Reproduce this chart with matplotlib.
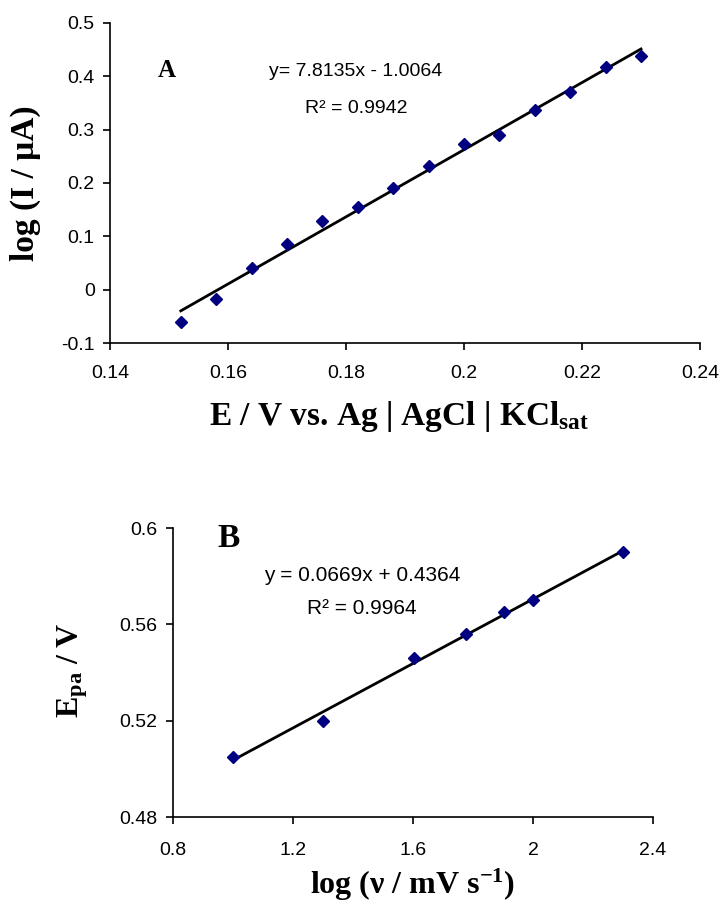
import numpy as np
import matplotlib
matplotlib.use("Agg")
import matplotlib.pyplot as plt

# ---- data ----
# Panel A
a_E = [0.152, 0.158, 0.164, 0.170, 0.176, 0.182, 0.188, 0.194, 0.200, 0.206, 0.212, 0.218, 0.224, 0.230]
a_logI = [-0.060, -0.017, 0.041, 0.086, 0.128, 0.155, 0.190, 0.232, 0.273, 0.290, 0.336, 0.371, 0.418, 0.438]
a_eq = "y= 7.8135x - 1.0064"
a_r2 = "R² = 0.9942"
a_xticks = [0.14, 0.16, 0.18, 0.2, 0.22, 0.24]
a_xticklabels = ["0.14", "0.16", "0.18", "0.2", "0.22", "0.24"]
a_yticks = [-0.1, 0, 0.1, 0.2, 0.3, 0.4, 0.5]
a_yticklabels = ["-0.1", "0", "0.1", "0.2", "0.3", "0.4", "0.5"]

# Panel B
b_logv = [1.000, 1.301, 1.602, 1.778, 1.903, 2.000, 2.301]
b_Epa = [0.505, 0.520, 0.546, 0.556, 0.565, 0.570, 0.590]
b_eq = "y = 0.0669x + 0.4364"
b_r2 = "R² = 0.9964"
b_xticks = [0.8, 1.2, 1.6, 2.0, 2.4]
b_xticklabels = ["0.8", "1.2", "1.6", "2", "2.4"]
b_yticks = [0.48, 0.52, 0.56, 0.60]
b_yticklabels = ["0.48", "0.52", "0.56", "0.6"]

plt.rcParams['mathtext.fontset'] = 'custom'
plt.rcParams['mathtext.rm'] = 'Liberation Serif:bold'
plt.rcParams['mathtext.bf'] = 'Liberation Serif:bold'
plt.rcParams['mathtext.it'] = 'Liberation Serif:italic:bold'

SANS = 'Liberation Sans'
SERIF = 'Liberation Serif'
MARK = '#000080'

fig = plt.figure(figsize=(7.2, 9.05), dpi=100)
W, H = 720.0, 905.0

def axes_px(l, t, r, b):
    return fig.add_axes([l / W, 1 - b / H, (r - l) / W, (b - t) / H])

def style(ax, xt, xtl, yt, ytl, xlim, ylim, xpad):
    for s in ['top', 'right']:
        ax.spines[s].set_visible(False)
    for s in ['left', 'bottom']:
        ax.spines[s].set_linewidth(1.2)
    ax.set_xlim(xlim)
    ax.set_ylim(ylim)
    ax.set_xticks(xt)
    ax.set_xticklabels(xtl, fontfamily=SANS, fontsize=14)
    ax.set_yticks(yt)
    ax.set_yticklabels(ytl, fontfamily=SANS, fontsize=14)
    ax.tick_params(direction='out', length=5, width=1.2, pad=6)
    ax.tick_params(axis='x', pad=xpad)

def fit_line(ax, x, y):
    x = np.asarray(x); y = np.asarray(y)
    k, c = np.polyfit(x, y, 1)
    xs = np.array([x.min(), x.max()])
    ax.plot(xs, k * xs + c, color='black', lw=2.0, zorder=2)
    ax.plot(x, y, ls='none', marker='D', ms=6, color=MARK, mec=MARK, zorder=3)

# ---- Panel A ----
axA = axes_px(110, 23, 700, 343)
fit_line(axA, a_E, a_logI)
style(axA, a_xticks, a_xticklabels, a_yticks, a_yticklabels, (0.14, 0.24), (-0.1, 0.5), 11)
axA.set_ylabel("log (I / μA)", fontfamily=SERIF, fontweight='bold', fontsize=24)
axA.yaxis.set_label_coords(-0.144, 0.5)
axA.yaxis.label.set_va('center')
axA.set_xlabel(r"E / V vs. Ag | AgCl | KCl$_{\mathrm{sat}}$", fontfamily=SERIF,
               fontweight='bold', fontsize=24)
axA.xaxis.set_label_coords(0.49, -0.231)
axA.xaxis.label.set_va('center')
axA.text(0.097, 0.853, "A", transform=axA.transAxes, ha='center', va='center',
         fontfamily=SERIF, fontweight='bold', fontsize=18)
axA.text(0.417, 0.847, a_eq, transform=axA.transAxes, ha='center', va='center',
         fontfamily=SANS, fontsize=14)
axA.text(0.417, 0.734, a_r2, transform=axA.transAxes, ha='center', va='center',
         fontfamily=SANS, fontsize=14)

# ---- Panel B ----
axB = axes_px(173, 528, 653, 817)
fit_line(axB, b_logv, b_Epa)
style(axB, b_xticks, b_xticklabels, b_yticks, b_yticklabels, (0.8, 2.4), (0.48, 0.60), 13)
axB.set_ylabel(r"E$_{\mathrm{pa}}$ / V", fontfamily=SERIF, fontweight='bold', fontsize=23)
axB.yaxis.set_label_coords(-0.208, 0.509)
axB.yaxis.label.set_va('center')
axB.set_xlabel(r"log (ν / mV s$^{-1}$)", fontfamily=SERIF, fontweight='bold', fontsize=23)
axB.xaxis.set_label_coords(0.5, -0.235)
axB.xaxis.label.set_va('center')
axB.text(0.115, 0.965, "B", transform=axB.transAxes, ha='center', va='center',
         fontfamily=SERIF, fontweight='bold', fontsize=24)
axB.text(0.394, 0.834, b_eq, transform=axB.transAxes, ha='center', va='center',
         fontfamily=SANS, fontsize=15)
axB.text(0.394, 0.723, b_r2, transform=axB.transAxes, ha='center', va='center',
         fontfamily=SANS, fontsize=15)

fig.savefig("out.png", dpi=100)
